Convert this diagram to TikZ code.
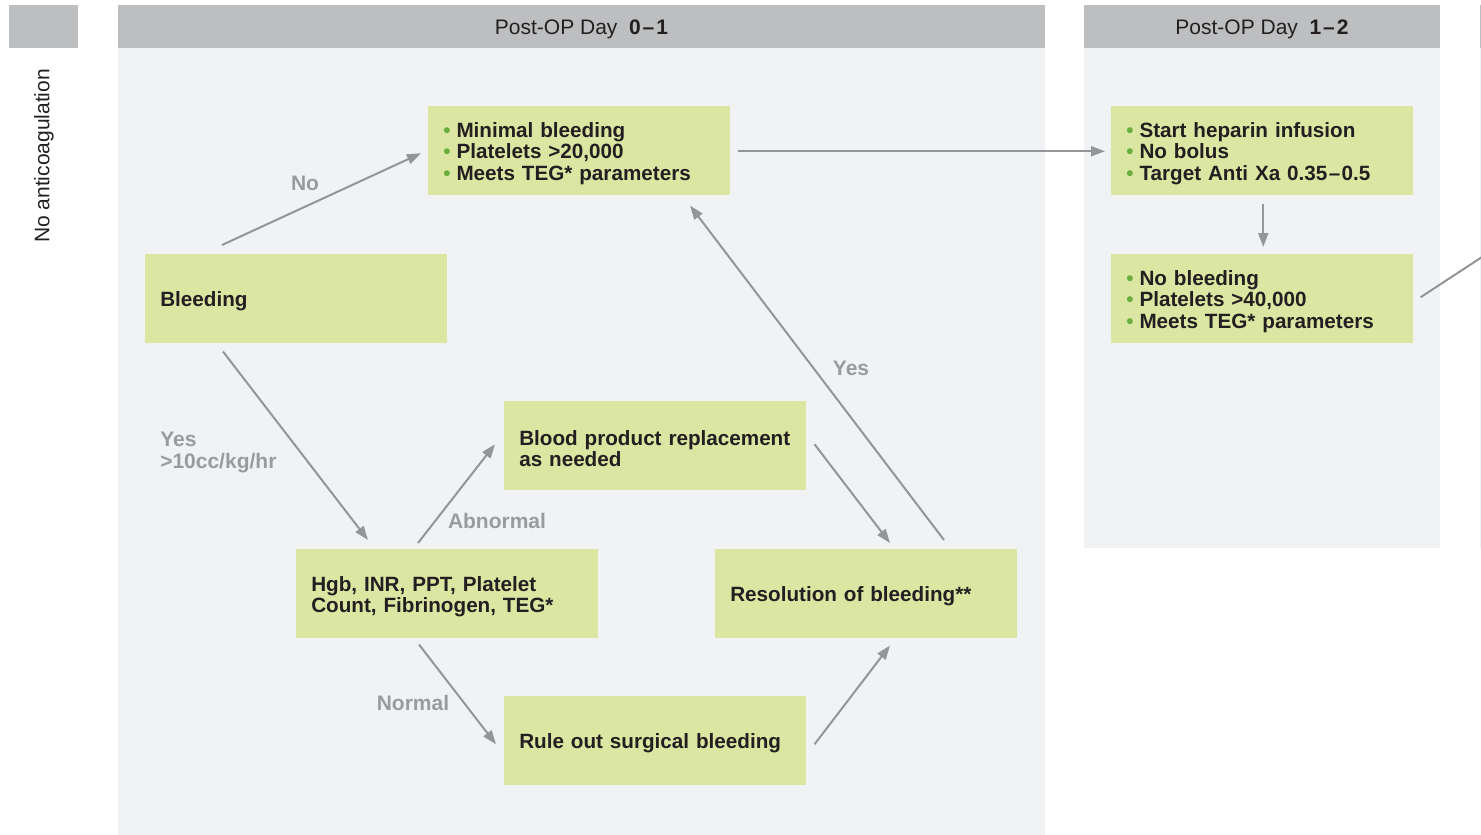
\documentclass[tikz,border=0pt]{standalone}
\usepackage{fontspec}
\setmainfont{Liberation Sans}
\usetikzlibrary{arrows.meta,calc}
\definecolor{hdr}{HTML}{BCBEC0}
\definecolor{pnl}{HTML}{F1F2F4}
\definecolor{boxg}{HTML}{DBE6A3}
\definecolor{arrc}{HTML}{939598}
\definecolor{lblc}{HTML}{9A9B9E}
\definecolor{txtc}{HTML}{231F20}
\definecolor{bulc}{HTML}{6AAE3E}
\newcommand{\gbul}{{\color{bulc}\textbullet}\hspace{4.5pt}}
\newcommand{\tstrut}{\rule{0pt}{15.3pt}}
\begin{document}
\begin{tikzpicture}[x=0.75pt,y=-0.75pt,
  fbox/.style={fill=boxg, text=txtc, font=\fontsize{15.5}{16}\selectfont\bfseries,
    align=left, text width=204pt, inner xsep=11.25pt, inner ysep=0pt,
    minimum height=66.75pt, anchor=north west},
  conn/.style={draw=arrc, line width=1.5pt, -{Triangle[length=10.5pt,width=7.5pt]}},
  plainconn/.style={draw=arrc, line width=1.5pt},
  lab/.style={text=lblc, font=\fontsize{15.75}{16.5}\selectfont\bfseries, inner sep=0pt},
  hdrtext/.style={text=txtc, font=\fontsize{15.75}{16}\selectfont, inner sep=0pt}]
\useasboundingbox (0,0) rectangle (1481,835);
\fill[white] (0,0) rectangle (1481,835);
% left tab
\fill[hdr] (9,5) rectangle (78,48);
\node[hdrtext, rotate=90] (noanti) at (44,156) {No anticoagulation};
% panel 1
\fill[hdr] (118,5) rectangle (1045,48);
\fill[pnl] (118,48) rectangle (1045,835);
\node[hdrtext] (h1) at (581.5,29) {Post-OP Day\hspace{0.55em}\textbf{0\kern1.5pt–\kern1.5pt1}};
% panel 2
\fill[hdr] (1084,5) rectangle (1440,48);
\fill[pnl] (1084,48) rectangle (1440,548);
\node[hdrtext] (h2) at (1262,29) {Post-OP Day\hspace{0.55em}\textbf{1\kern1.5pt–\kern1.5pt2}};
% next panel edge
\fill[hdr] (1480,5) rectangle (1482,48);
\fill[pnl] (1480,48) rectangle (1482,548);
% boxes
\node[fbox] (minb) at (428,106) {\tstrut\gbul Minimal bleeding\\\gbul Platelets >20,000\\\gbul Meets TEG* parameters};
\node[fbox] (bleed) at (145,254) {\tstrut Bleeding};
\node[fbox] (blood) at (504,401) {\tstrut\mbox{Blood product replacement}\\as needed};
\node[fbox] (hgb) at (296,549) {\tstrut Hgb, INR, PPT, Platelet\\Count, Fibrinogen, TEG*};
\node[fbox] (res) at (715,549) {\tstrut Resolution of bleeding**};
\node[fbox] (rule) at (504,696) {\tstrut Rule out surgical bleeding};
\node[fbox] (hep) at (1111,106) {\tstrut\gbul Start heparin infusion\\\gbul No bolus\\\gbul Target Anti Xa 0.35\kern1pt–\kern1pt0.5};
\node[fbox] (nob) at (1111,254) {\tstrut\gbul No bleeding\\\gbul Platelets >40,000\\\gbul Meets TEG* parameters};
% labels
\node[lab] (lno) at (305,183) {No};
\node[lab, anchor=west, align=left] (lyes1) at (160,452) {Yes\\>10cc/kg/hr};
\node[lab] (labn) at (497,521) {Abnormal};
\node[lab] (lyes2) at (851,368) {Yes};
\node[lab] (lnorm) at (413,703) {Normal};
% connectors
\draw[conn] ($(bleed.north west)+(77,-9)$) -- ($(minb.west)+(-7,2.5)$);
\draw[conn] ($(bleed.south west)+(78,8)$) -- ($(hgb.north west)+(72,-9)$);
\draw[conn] ($(hgb.north west)+(122,-6)$) -- ($(blood.west)+(-9,-1.5)$);
\draw[conn] ($(blood.east)+(8,-1.5)$) -- ($(res.north west)+(175,-6)$);
\draw[conn] ($(res.north west)+(229,-9)$) -- ($(minb.south west)+(262,10)$);
\draw[conn] ($(hgb.south west)+(123,6)$) -- ($(rule.west)+(-8,3.5)$);
\draw[conn] ($(rule.east)+(8,3.5)$) -- ($(res.south west)+(175,7)$);
\draw[conn] ($(minb.east)+(7,0.5)$) -- ($(hep.west)+(-6,0.5)$);
\draw[conn] ($(hep.south)+(1,8)$) -- ($(nob.north)+(1,-7)$);
\coordinate (out) at (1482,257);
\draw[plainconn] ($(nob.east)+(7,-1.5)$) -- (out);
\end{tikzpicture}
\end{document}
